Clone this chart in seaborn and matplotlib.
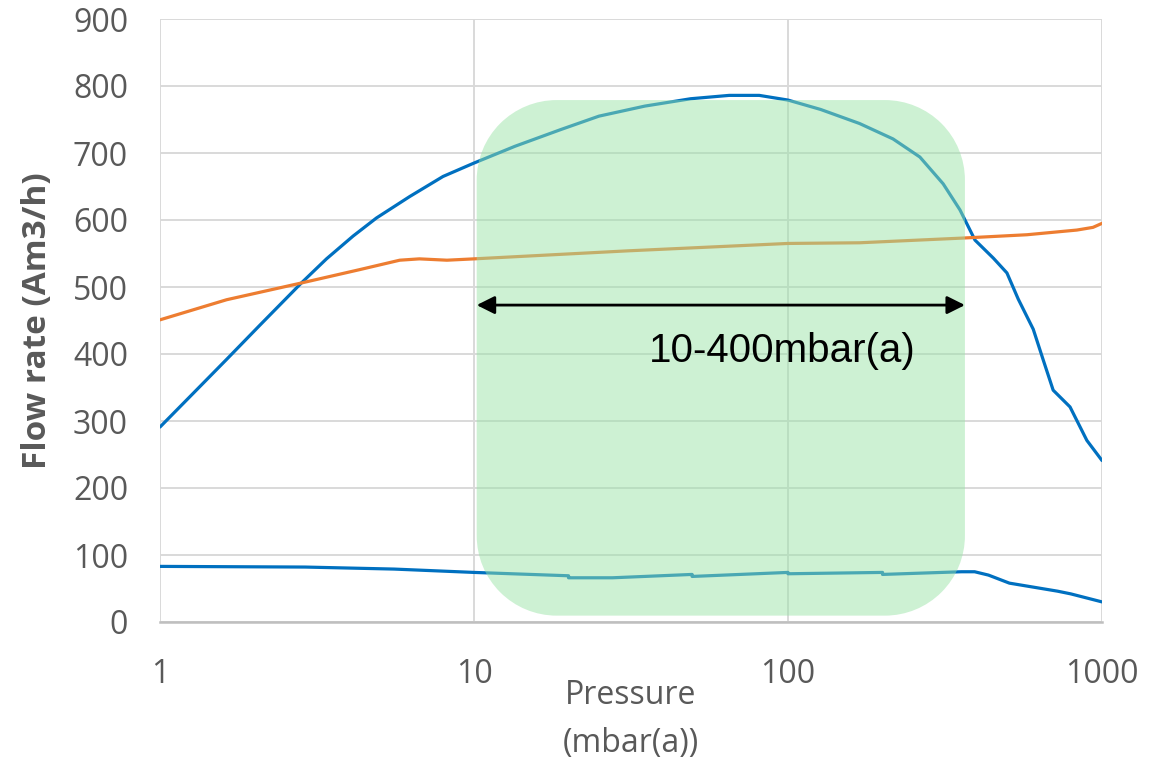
import matplotlib
matplotlib.use("Agg")

import numpy as np
import matplotlib.pyplot as plt
import matplotlib.transforms as mtrans
import seaborn as sns
from matplotlib.path import Path
from matplotlib.patches import PathPatch

# ── Data ──────────────────────────────────────────────────────────────────────
upper_p = [1, 1.28, 1.63, 2.08, 2.82, 3.39, 4.12, 4.89, 6.24, 7.97, 10, 13.5,
           18.9, 25, 35, 49, 65, 81, 100, 127, 169, 216, 263, 312, 353, 394,
           451, 498, 541, 604, 650, 699, 791, 895, 1000]
upper_q = [291, 342, 392, 443, 506, 542, 576, 603, 635, 665, 685, 710,
           735, 755, 770, 781, 786, 786, 779, 765, 744, 721, 694, 654, 615, 570,
           543, 521, 482, 437, 391, 346, 321, 271, 241]

orange_p = [1, 1.63, 2.82, 4.33, 5.8, 6.7, 8.2, 10, 31, 100, 169, 359, 577,
            832, 936, 1000]
orange_q = [451, 481, 506, 526, 540, 542, 540, 542, 554, 565, 566, 573, 578,
            585, 589, 595]

lower_p = [1, 2.9, 5.56, 10, 20, 20, 27.6, 49.5, 49.5, 100, 100, 200, 200,
           357, 393, 435, 507, 722, 795, 1000]
lower_q = [83, 82, 79, 74, 69, 66, 66, 71, 68, 74, 72, 74, 71,
           75, 75, 70, 58, 46, 42, 30]

x_ticks = [1, 10, 100, 1000]
x_tick_labels = ["1", "10", "100", "1000"]
y_ticks = [0, 100, 200, 300, 400, 500, 600, 700, 800, 900]

# highlighted operating window and its arrow
box_p = (10.2, 366)
box_q = (9.5, 779)
arrow_p = (10.2, 366)
arrow_q = 473
range_label = "10-400mbar(a)"
range_label_pos = (95.7, 388)

# ── Style ─────────────────────────────────────────────────────────────────────
BLUE = "#0070C0"
ORANGE = "#ED7D31"
GREY_TXT = "#595959"
W, H, DPI = 1171, 761, 100
AX_L, AX_B, AX_W, AX_H = 160, 622, 942, 603   # plot area in pixels
CORNER_PX = 80

sns.set_theme(style="whitegrid")
plt.rcParams.update({
    "font.family": ["Open Sans", "DejaVu Sans"],
    "grid.color": "#D9D9D9",
    "grid.linewidth": 1.4,
})


def rounded_rect_path(x0, y0, x1, y1, r):
    """Rectangle with true circular-arc corners (Excel style)."""
    verts, codes = [], []
    corners = [(x1 - r, y0 + r, 270, 360), (x1 - r, y1 - r, 0, 90),
               (x0 + r, y1 - r, 90, 180), (x0 + r, y0 + r, 180, 270)]
    for i, (cx, cy, a1, a2) in enumerate(corners):
        arc = Path.arc(a1, a2)
        verts.extend(arc.vertices * r + [cx, cy])
        c = list(arc.codes)
        c[0] = Path.MOVETO if i == 0 else Path.LINETO
        codes.extend(c)
    verts.append(verts[0])
    codes.append(Path.CLOSEPOLY)
    return Path(np.array(verts), codes)


fig = plt.figure(figsize=(W / DPI, H / DPI), dpi=DPI)
ax = fig.add_axes([AX_L / W, 1 - AX_B / H, AX_W / W, AX_H / H])

for xs, ys, col in [(upper_p, upper_q, BLUE),
                    (orange_p, orange_q, ORANGE),
                    (lower_p, lower_q, BLUE)]:
    sns.lineplot(x=xs, y=ys, color=col, lw=2.3, estimator=None, sort=False,
                 ax=ax, zorder=2)

ax.set_xscale("log")
ax.set_xlim(1, 1000)
ax.set_ylim(0, 900)
ax.set_xticks(x_ticks)
ax.set_xticklabels(x_tick_labels)
ax.set_yticks(y_ticks)
ax.minorticks_off()
ax.tick_params(axis="both", length=0, labelsize=23, labelcolor=GREY_TXT)
ax.tick_params(axis="x", pad=26)
ax.tick_params(axis="y", pad=23)
ax.grid(True, which="major", zorder=0)

for side in ["top", "right", "left"]:
    ax.spines[side].set_visible(False)
ax.spines["bottom"].set_color("#BFBFBF")
ax.spines["bottom"].set_linewidth(1.8)

ax.set_ylabel("Flow rate (Am3/h)", fontsize=24, fontweight="bold",
              color=GREY_TXT)
ax.yaxis.set_label_coords(-0.112, 0.5)
ax.set_xlabel("Pressure\n(mbar(a))", fontsize=23, color=GREY_TXT,
              linespacing=1.6)
ax.xaxis.set_label_coords(0.5, -0.095)

# rounded, semi-transparent green window drawn over the curves
# (built in plot-area pixel units so the corners stay circular)
px_to_axes = mtrans.Affine2D().scale(1 / AX_W, 1 / AX_H) + ax.transAxes
to_axes = ax.transAxes.inverted()
(x0, y0) = to_axes.transform(ax.transData.transform((box_p[0], box_q[0])))
(x1, y1) = to_axes.transform(ax.transData.transform((box_p[1], box_q[1])))
box_path = rounded_rect_path(x0 * AX_W, y0 * AX_H, x1 * AX_W, y1 * AX_H,
                             CORNER_PX)
ax.add_patch(PathPatch(box_path, transform=px_to_axes,
                       facecolor=(0.60, 0.89, 0.655), edgecolor="none",
                       alpha=0.49, zorder=3))

ax.annotate("", xy=(arrow_p[1], arrow_q), xytext=(arrow_p[0], arrow_q),
            arrowprops=dict(arrowstyle="<|-|>", color="black", lw=2,
                            mutation_scale=27, shrinkA=0, shrinkB=0),
            zorder=4)
ax.text(range_label_pos[0], range_label_pos[1], range_label,
        fontsize=29, family=["Liberation Sans", "DejaVu Sans"],
        color="black", ha="center", va="baseline", zorder=4)

fig.savefig("out.png", dpi=DPI)
